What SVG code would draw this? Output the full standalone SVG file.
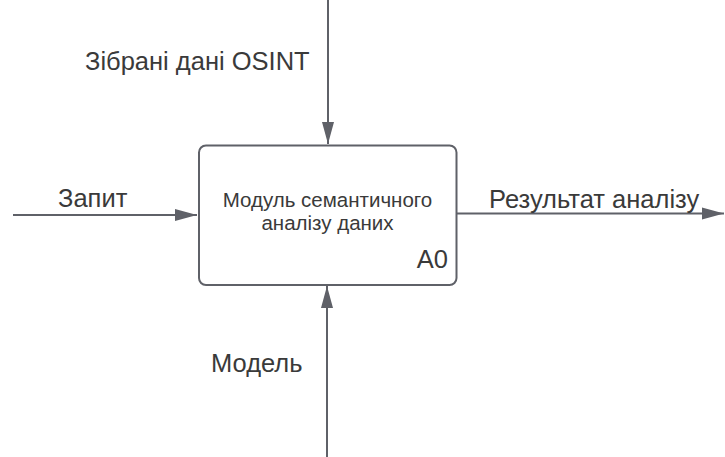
<svg xmlns="http://www.w3.org/2000/svg" width="725" height="457" viewBox="0 0 725 457">
<style>
.ln{stroke:#5f6168;stroke-width:2;fill:none}
.lbl{font-family:"Liberation Sans",Arial,sans-serif;fill:#3a3a3a}
.big{font-size:25.5px}
</style>
<defs>
<marker id="ah" markerWidth="12" markerHeight="12" viewBox="0 0 12 12" refX="11" refY="6" orient="auto" markerUnits="userSpaceOnUse" overflow="visible">
<path d="M0,0 L22,6 L0,12 Z" transform="translate(-11,0)" fill="#5f6168"/>
</marker>
</defs>
<rect width="725" height="457" fill="#ffffff"/>
<g id="connectors">
<path class="ln" d="M328,0 V144" marker-end="url(#ah)"/>
<path class="ln" d="M13,215 H197" marker-end="url(#ah)"/>
<path class="ln" d="M457,213.5 H724" marker-end="url(#ah)"/>
<path class="ln" d="M327,457 V286" marker-end="url(#ah)"/>
</g>
<g id="node-A0">
<rect x="199" y="145.5" width="257.5" height="139.5" rx="7" fill="#ffffff" stroke="#5f6168" stroke-width="2"/>
<text class="lbl" x="327.5" y="207" font-size="20.5" text-anchor="middle">Модуль семантичного</text>
<text class="lbl" x="327.5" y="230" font-size="20.5" text-anchor="middle">аналізу даних</text>
<text class="lbl" x="448" y="268" font-size="25.5" text-anchor="end">A0</text>
</g>
<g id="label-control">
<text class="lbl big" x="85" y="70">Зібрані дані OSINT</text>
</g>
<g id="label-input">
<text class="lbl big" x="58" y="207">Запит</text>
</g>
<g id="label-output">
<text class="lbl big" x="489" y="208">Результат аналізу</text>
</g>
<g id="label-mechanism">
<text class="lbl big" x="211" y="372">Модель</text>
</g>
</svg>
